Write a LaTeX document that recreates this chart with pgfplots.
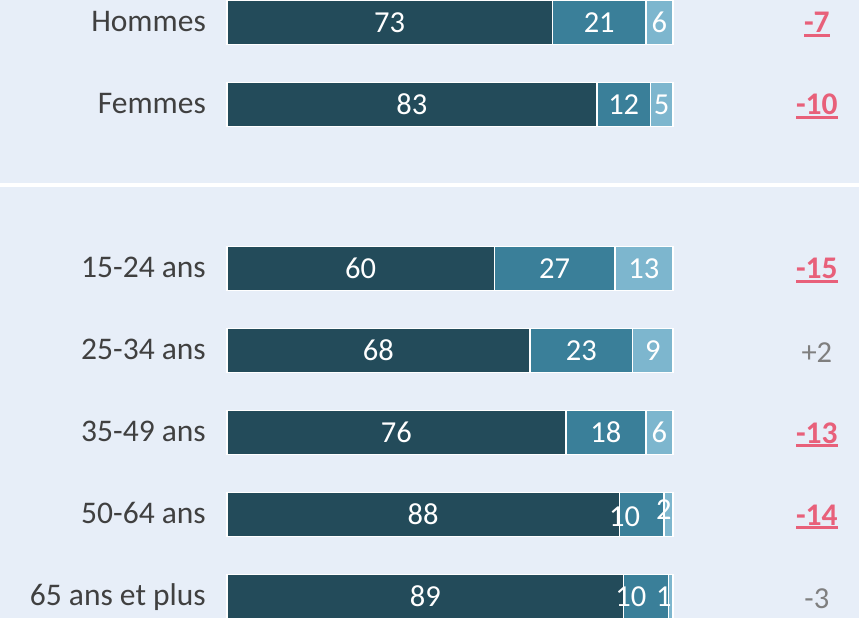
\documentclass[border=0pt]{standalone}
\usepackage{pgfplots}
\pgfplotsset{compat=1.18}
\usepackage{fontspec}
\setmainfont{Carlito}
\definecolor{bg}{HTML}{E7EEF8}
\definecolor{c1}{HTML}{234B5A}
\definecolor{c2}{HTML}{3A7F99}
\definecolor{c3}{HTML}{7DB6CE}
\definecolor{redt}{HTML}{E8607A}
\definecolor{grayt}{HTML}{7F7F7F}
\definecolor{labt}{HTML}{404040}
\newsavebox\ulbox
\newcommand{\redul}[1]{\sbox\ulbox{#1}\rlap{\rule[-4.4pt]{\wd\ulbox}{3pt}}\usebox\ulbox}
\pgfplotsset{base/.style={scale only axis, width=859pt, height=618pt,
  xmin=-50.85, xmax=141.75, ymin=-0.274, ymax=7.262, y dir=reverse,
  axis line style={draw=none}, xtick=\empty, ytick=\empty}}
\begin{document}
\begin{tikzpicture}
\begin{axis}[base, axis background/.style={fill=bg}, xbar stacked, bar width=44pt]
\addplot[fill=c1, draw=white, line width=1.5pt] coordinates {(73,0) (83,1) (60,3) (68,4) (76,5) (88,6) (89,7)};
\addplot[fill=c2, draw=white, line width=1.5pt] coordinates {(21,0) (12,1) (27,3) (23,4) (18,5) (10,6) (10,7)};
\addplot[fill=c3, draw=white, line width=1.5pt] coordinates {(6,0) (5,1) (13,3) (9,4) (6,5) (2,6) (1,7)};
\draw[white, line width=4.5pt] (axis cs:-60,1.98) -- (axis cs:150,1.98);
\end{axis}
\begin{axis}[base]
% values inside the bars
\addplot[draw=none, nodes near coords, point meta=explicit symbolic,
  every node near coord/.append style={anchor=center, text=white, inner sep=0pt,
  font=\fontsize{30.5}{36}\selectfont}] table[meta=l] {
x y l
36.5 0 73
83.5 0 21
97 0 6
41.5 1 83
89 1 12
97.5 1 5
30 3 60
73.5 3 27
93.5 3 13
34 4 68
79.5 4 23
95.5 4 9
38 5 76
85 5 18
97 5 6
44 6 88
89.2 6.03 10
98 5.94 2
44.5 7 89
90.6 7 10
98 7 1
};
% category labels
\addplot[draw=none, nodes near coords, point meta=explicit symbolic,
  every node near coord/.append style={anchor=base east, yshift=-9.3pt, text=labt, inner sep=0pt,
  font=\fontsize{31.5}{36}\selectfont}] table[meta=l, col sep=comma] {
x,y,l
-4.66,0,Hommes
-4.66,1,Femmes
-4.66,3,15-24 ans
-4.66,4,25-34 ans
-4.66,5,35-49 ans
-4.66,6,50-64 ans
-4.66,7,65 ans et plus
};
% evolution column, significant
\addplot[draw=none, nodes near coords={\redul{\pgfplotspointmeta}}, point meta=explicit symbolic,
  every node near coord/.append style={anchor=base, yshift=-10.5pt, text=redt, inner sep=0pt,
  font=\fontsize{31.5}{36}\selectfont\bfseries}] table[meta=l] {
x y l
132.3 0 -7
132.3 1 -10
132.3 3 -15
132.3 5 -13
132.3 6 -14
};
% evolution column, not significant
\addplot[draw=none, nodes near coords, point meta=explicit symbolic,
  every node near coord/.append style={anchor=base, yshift=-12pt, text=grayt, inner sep=0pt,
  font=\fontsize{30.5}{36}\selectfont}] table[meta=l] {
x y l
132.3 4 +2
132.3 7 -3
};
\end{axis}
\end{tikzpicture}
\end{document}
